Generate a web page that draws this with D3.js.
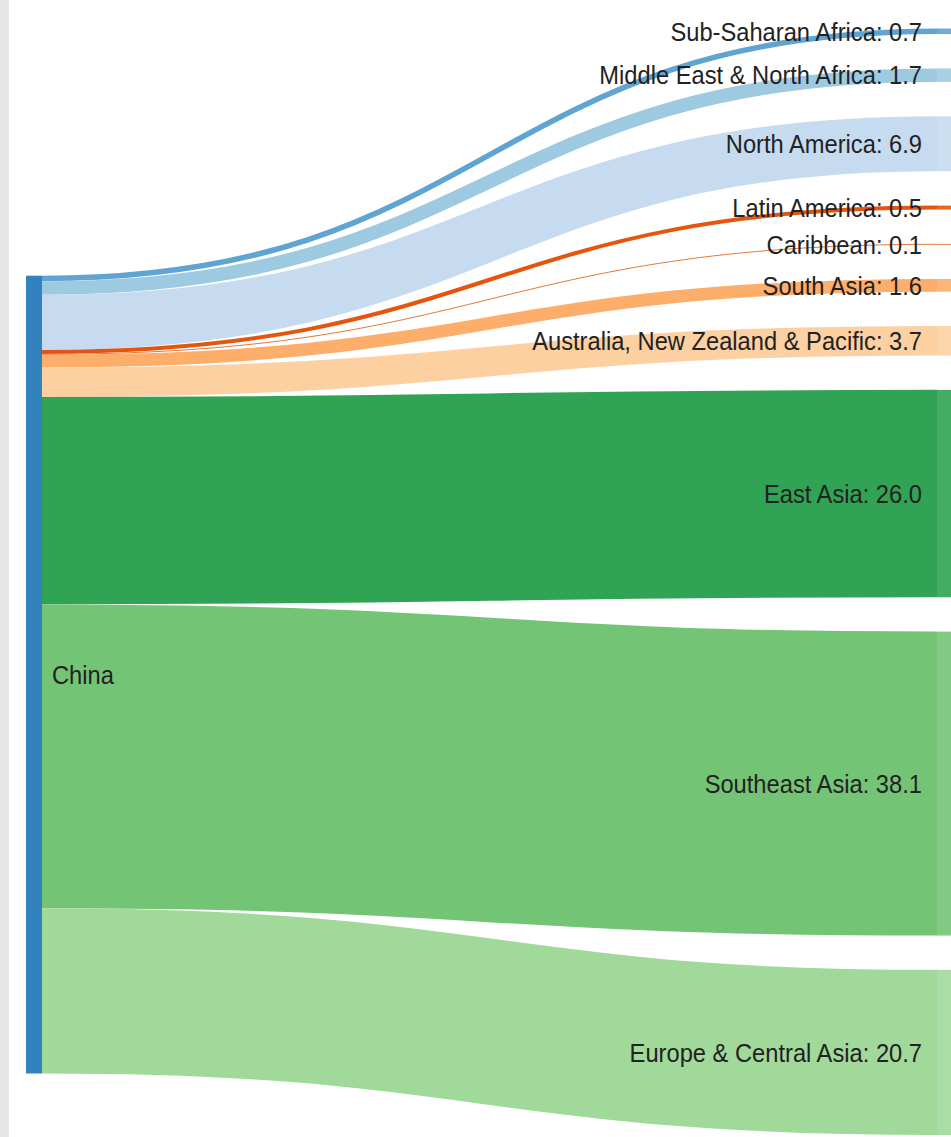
<!DOCTYPE html>
<html>
<head>
<meta charset="utf-8">
<script src="https://cdn.jsdelivr.net/npm/d3@7"></script>
<style>
  body { margin: 0; background: #fff; overflow: hidden; }
  text { font-family: "Liberation Sans", Arial, sans-serif; fill: #222; }
</style>
</head>
<body>
<script>
// data: share of China's outbound flows by destination region (%)
var sourceName = "China";
var targets = ["Sub-Saharan Africa", "Middle East & North Africa", "North America",
               "Latin America", "Caribbean", "South Asia",
               "Australia, New Zealand & Pacific", "East Asia", "Southeast Asia",
               "Europe & Central Asia"];
var shares = [0.7, 1.7, 6.9, 0.5, 0.1, 1.6, 3.7, 26.0, 38.1, 20.7];
var colors = ["#5fa4d2", "#9ecae1", "#c6dbef", "#e6550d", "#e07a3a", "#fdae6b",
              "#fdd0a2", "#31a354", "#74c476", "#a1d99b"];
var sourceColor = "#3182bd";

var WIDTH = 951;
var HEIGHT = 1137;
var NODE_W = 16;
var PAD = 34.3;
var TOP = 28.5, BOTTOM = 1135;

var svg = d3.select("body")
            .append("svg")
            .attr("width", WIDTH)
            .attr("height", HEIGHT);

// grey page edge on the left
svg.append("rect")
   .attr("x", 0).attr("y", 0)
   .attr("width", 9).attr("height", HEIGHT)
   .attr("fill", "#e6e6e6");

var total = d3.sum(shares);
var ky = (BOTTOM - TOP - (targets.length - 1) * PAD) / total;
var h = d3.scaleLinear().domain([0, total]).range([0, ky * total]);
var x = d3.scaleLinear().domain([0, 1]).range([26, 937]);

// target nodes stacked in one column
var nodes = [];
var y = TOP;
for (var i = 0; i < targets.length; i++) {
  nodes.push({ name: targets[i], value: shares[i], color: colors[i], y0: y, y1: y + h(shares[i]) });
  y += h(shares[i]) + PAD;
}

// source node sits at the value-weighted centre of its targets
var centre = d3.sum(nodes, function(d) { return d.value * (d.y0 + d.y1) / 2; }) / total;
var src = { y0: centre - h(total) / 2, y1: centre + h(total) / 2 };

var link = d3.linkHorizontal();
var sy = src.y0;
var links = nodes.map(function(d) {
  var w = h(d.value);
  var l = { source: [x(0) + NODE_W, sy + w / 2], target: [x(1), (d.y0 + d.y1) / 2], width: w, color: d.color };
  sy += w;
  return l;
});

svg.append("g")
   .attr("fill", "none")
   .selectAll("path")
   .data(links)
   .enter()
   .append("path")
   .attr("d", link)
   .attr("stroke", function(d) { return d.color; })
   .attr("stroke-width", function(d) { return Math.max(1, d.width); });

svg.append("rect")
   .attr("x", x(0))
   .attr("y", src.y0)
   .attr("width", NODE_W)
   .attr("height", src.y1 - src.y0)
   .attr("fill", sourceColor);

svg.append("g")
   .selectAll("rect")
   .data(nodes)
   .enter()
   .append("rect")
   .attr("x", x(1))
   .attr("y", function(d) { return d.y0; })
   .attr("width", NODE_W)
   .attr("height", function(d) { return Math.max(1, d.y1 - d.y0); })
   .attr("fill", function(d) { return d.color; })
   .attr("opacity", 0.9);

// labels (slightly stretched vertically like the original)
var labelG = svg.append("g").attr("font-size", 23.7);

labelG.selectAll("text")
   .data(nodes)
   .enter()
   .append("text")
   .attr("text-anchor", "end")
   .attr("dy", "0.35em")
   .attr("transform", function(d) {
     return "translate(" + (x(1) - 15) + "," + ((d.y0 + d.y1) / 2) + ") scale(1,1.12)";
   })
   .text(function(d) { return d.name + ": " + d3.format(".1f")(d.value); });

labelG.append("text")
   .attr("dy", "0.35em")
   .attr("transform", "translate(" + (x(0) + NODE_W + 10) + "," + ((src.y0 + src.y1) / 2) + ") scale(1,1.12)")
   .text(sourceName);
</script>
</body>
</html>
